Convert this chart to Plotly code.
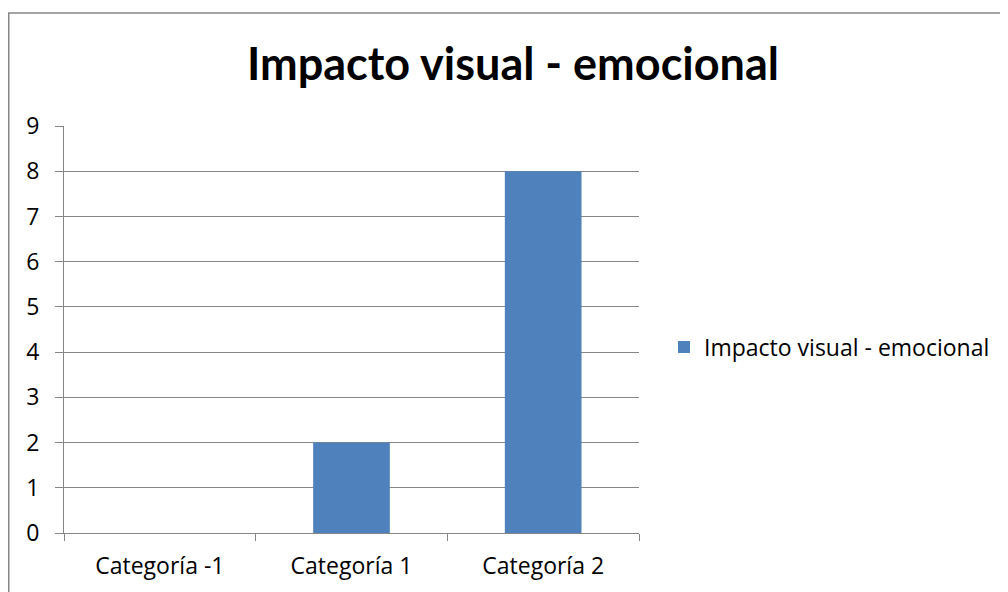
import plotly.graph_objects as go

categories = ["Categoría -1", "Categoría 1", "Categoría 2"]
values = [0, 2, 8]
series_name = "Impacto visual - emocional"
title_text = "Impacto visual - emocional"
y_ticks = list(range(0, 10))

# page body has an 8px margin, so figure coords = screen coords - 8
W, H = 1000, 584
L, R, T, B = 56, 369, 118, 59
pw = W - L - R
ph = H - T - B

def px_x(p):
    return (p - L) / pw

def px_y(p):
    return (H - B - p) / ph

FONT = "Open Sans"
GRID = "#868686"

fig = go.Figure()
fig.add_trace(go.Bar(
    x=categories, y=values, name=series_name,
    marker=dict(color="#4F81BD", line=dict(width=0)),
    showlegend=True,
))

fig.update_layout(
    width=W, height=H,
    margin=dict(l=L, r=R, t=T, b=B, pad=0),
    paper_bgcolor="white", plot_bgcolor="white",
    bargap=0.6,
    font=dict(family=FONT, size=23, color="black"),
    title=dict(text="<b>" + title_text + "</b>", x=505 / W, xref="container",
               xanchor="center", y=1 - 56 / H, yref="container", yanchor="middle",
               font=dict(family="Lato", size=45, color="black")),
    showlegend=True,
    legend=dict(x=px_x(656), xanchor="left", y=px_y(339), yanchor="middle",
                font=dict(family=FONT, size=23, color="black"),
                bgcolor="rgba(0,0,0,0)", itemwidth=30),
    xaxis=dict(showgrid=False, showline=True, linecolor=GRID, linewidth=1,
               ticks="outside", tickson="boundaries", ticklen=7, tickcolor=GRID,
               ticklabelstandoff=12, fixedrange=True),
    yaxis=dict(range=[0, 9], tickvals=y_ticks, showgrid=True, gridcolor=GRID, gridwidth=1,
               showline=True, linecolor=GRID, linewidth=1, zeroline=False,
               ticks="outside", ticklen=8, tickcolor=GRID, ticklabelstandoff=11,
               fixedrange=True),
    shapes=[dict(type="rect", xref="paper", yref="paper",
                 x0=px_x(0.75), x1=px_x(1010), y0=px_y(5), y1=px_y(600),
                 line=dict(color=GRID, width=1.5), fillcolor="rgba(0,0,0,0)", layer="below")],
)

fig.write_html("out.html")
